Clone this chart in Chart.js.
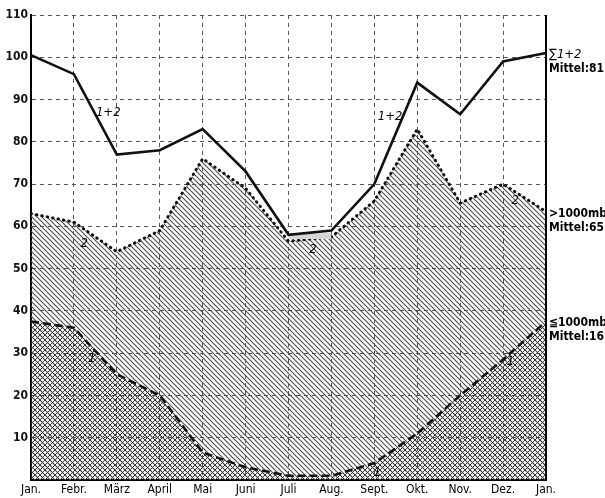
<!DOCTYPE html>
<html><head><meta charset="utf-8">
<script src="https://cdn.jsdelivr.net/npm/chart.js@4.4.1/dist/chart.umd.min.js"></script>
<style>html,body{margin:0;padding:0;background:#fff}</style>
</head><body>
<canvas id="c" width="605" height="498"></canvas>
<script>
'use strict';
// months on the x axis (year wraps back to Jan.)
const months=['Jan.','Febr.','März','April','Mai','Juni','Juli','Aug.','Sept.','Okt.','Nov.','Dez.','Jan.'];
const yTicks=[10,20,30,40,50,60,70,80,90,100,110];
// series
const sum12=[100.5,96,77,78,83,73,58,59,70,94,86.5,99,101];
const above1000=[63,61,54,59,76,69,56.5,57.5,66,83,65.5,70,63.5];
const below1000=[37.5,36,25,20,6.5,3,1,1,4,11,20,28.5,37.5];
// grey strip between Juli and Aug.
const patchTop=[null,null,null,null,null,null,58.4,58.4,null,null,null,null,null];
const patchBottom=[null,null,null,null,null,null,57,57,null,null,null,null,null];
// right margin labels: [series, line1, line2]
const sideLabels=[[sum12,'\u22111+2','Mittel:81'],[above1000,'>1000mb','Mittel:65'],[below1000,'\u22661000mb','Mittel:16']];
// curve labels in data units: [text, month index, value]
const curveLabels=[['1+2',1.8,87],['1+2',8.37,86],['2',1.24,56],['2',6.57,54.4],['2',11.28,66],['1',1.42,28.8],['1',11.17,28.1],['1',8.07,1.7]];

const ctx=document.getElementById('c').getContext('2d');

function hatch(cross){
  const s=5,c=document.createElement('canvas');c.width=c.height=s;
  const g=c.getContext('2d');
  g.strokeStyle=cross?'#3a3a3a':'#4a4a4a';g.lineWidth=cross?1:1.1;
  for(const o of [-s,0,s]){
    g.beginPath();g.moveTo(o-1,-1);g.lineTo(o+s+1,s+1);g.stroke();
    if(cross){g.beginPath();g.moveTo(o-1,s+1);g.lineTo(o+s+1,-1);g.stroke();}
  }
  return ctx.createPattern(c,'repeat');
}

const textPlugin={
  id:'texts',
  afterDraw(chart){
    const {ctx:g,chartArea:a,scales:{y}}=chart;
    g.save();
    g.strokeStyle='#000';g.lineWidth=2;
    g.beginPath();g.moveTo(a.right,a.top);g.lineTo(a.right,a.bottom);g.stroke();
    g.fillStyle='#000';g.textAlign='left';g.textBaseline='alphabetic';
    sideLabels.forEach(([arr,t1,t2],i)=>{
      const py=y.getPixelForValue(arr[arr.length-1]);
      g.font=(i===0?'italic 13px ':'bold 12px ')+'"DejaVu Sans Condensed"';
      g.fillText(t1,a.right+3,py+5);
      g.font='bold 12px "DejaVu Sans Condensed"';
      g.fillText(t2,a.right+3,py+19);
    });
    g.font='italic 13px "DejaVu Sans Condensed"';g.textAlign='center';g.textBaseline='middle';
    curveLabels.forEach(([t,xi,v])=>{
      const px=a.left+(a.right-a.left)*xi/(months.length-1);
      g.fillText(t,px,y.getPixelForValue(v));
    });
    g.restore();
  }
};

new Chart(ctx,{
  type:'line',
  data:{
    labels:months,
    datasets:[
      {data:sum12,borderColor:'#111',borderWidth:2.6,fill:false},
      {data:patchTop,borderWidth:0,borderColor:'rgba(0,0,0,0)',backgroundColor:'#d6d6d6',fill:'+1'},
      {data:patchBottom,borderWidth:0,borderColor:'rgba(0,0,0,0)',fill:false},
      {data:below1000,borderColor:'#111',borderWidth:2.6,borderDash:[8,4],backgroundColor:hatch(true),fill:'origin'},
      {data:above1000,borderColor:'#111',borderWidth:3,borderDash:[0.5,5],borderCapStyle:'round',backgroundColor:hatch(false),fill:'origin'}
    ]
  },
  options:{
    responsive:false,animation:false,devicePixelRatio:1,
    layout:{padding:{top:15,right:59,left:0,bottom:0}},
    elements:{point:{radius:0},line:{tension:0}},
    plugins:{legend:{display:false},tooltip:{enabled:false}},
    scales:{
      x:{
        offset:false,
        afterFit:s=>{s.height=18;},
        grid:{color:'#555',lineWidth:1,drawTicks:false,borderDash:[4,4]},
        border:{display:true,color:'#000',width:2,dash:[4,4]},
        ticks:{color:'#000',padding:3,maxRotation:0,autoSkip:false,font:{family:'"DejaVu Sans Condensed"',size:12}}
      },
      y:{
        min:0,max:110,
        afterFit:s=>{s.width=31;},
        afterBuildTicks:s=>{s.ticks=yTicks.map(v=>({value:v}));},
        grid:{color:'#555',lineWidth:1,drawTicks:false,borderDash:[4,4]},
        border:{display:true,color:'#000',width:2,dash:[4,4]},
        ticks:{color:'#111',padding:3,font:{family:'"DejaVu Sans Condensed"',size:12,weight:'bold'}}
      }
    }
  },
  plugins:[textPlugin]
});
</script>
</body></html>
